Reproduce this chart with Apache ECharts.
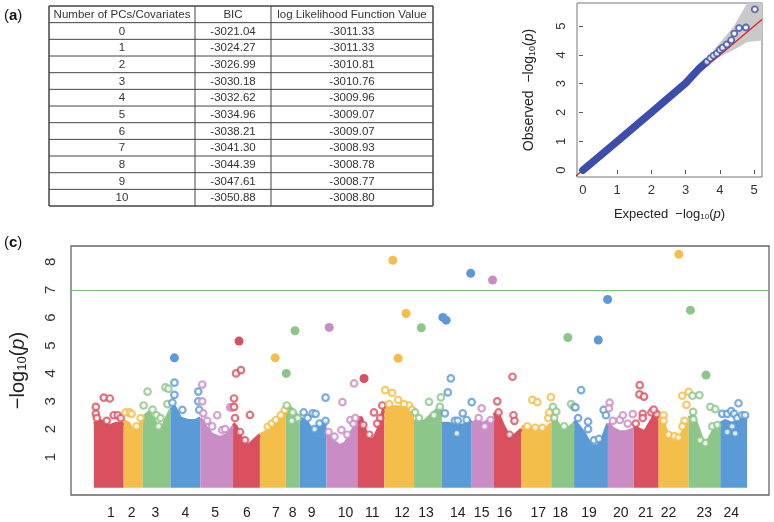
<!DOCTYPE html>
<html>
<head>
<meta charset="utf-8">
<script src="https://cdn.jsdelivr.net/npm/echarts@6/dist/echarts.min.js"></script>
<style>
	html, body { margin: 0; padding: 0; background: #fff; }
	#main { width: 774px; height: 522px; }
</style>
</head>
<body>
<div id="main"></div>
<script>
// (a) table
const tableHead = ['Number of PCs/Covariates', 'BIC', 'log Likelihood Function Value'];
const pcs = ['0', '1', '2', '3', '4', '5', '6', '7', '8', '9', '10'];
const bic = ['-3021.04', '-3024.27', '-3026.99', '-3030.18', '-3032.62', '-3034.96', '-3038.21', '-3041.30', '-3044.39', '-3047.61', '-3050.88'];
const logLik = ['-3011.33', '-3011.33', '-3010.81', '-3010.76', '-3009.96', '-3009.07', '-3009.07', '-3008.93', '-3008.78', '-3008.77', '-3008.80'];

// (b) QQ plot
const qqTicks = [0, 1, 2, 3, 4, 5];
const qqDense = [[0, 0], [1, 1], [2, 2], [3, 3.02], [3.42, 3.56], [3.6, 3.74]];
const qqTail = [[3.62, 3.76], [3.72, 3.88], [3.81, 3.97], [3.91, 4.05], [4.0, 4.17], [4.08, 4.25], [4.2, 4.36], [4.33, 4.51], [4.42, 4.74], [4.56, 4.93], [4.76, 4.95], [5.02, 5.58]];
const bandX = [3.48, 3.9, 4.4, 4.8, 5.23];
const bandLow = [3.5, 3.88, 4.17, 4.45, 4.5];
const bandHigh = [3.6, 4.28, 4.98, 5.8, 5.8];

// (c) manhattan
const chrNames = ['1', '2', '3', '4', '5', '6', '7', '8', '9', '10', '11', '12', '13', '14', '15', '16', '17', '18', '19', '20', '21', '22', '23', '24'];
const chrLabelPos = [40, 61, 85, 115, 145, 177, 206, 223, 242, 276, 303, 333, 357, 389, 413, 436, 470, 492, 521, 553, 578, 601, 637, 664];
const chrColors = ['#d9505e', '#f3be4a', '#8cc689', '#5a9ad6', '#c98cc4'];
const gwTicks = [1, 2, 3, 4, 5, 6, 7, 8];
const threshold = 7;

// top of the dense cloud in each chromosome
const envelope = [
	[[23, 2.2], [30, 2.3], [38, 2.1], [45, 2.2], [53, 2.2]],
	[[53, 2.3], [58, 2.2], [63, 1.9], [68, 2.1], [72, 2.3]],
	[[72, 2.4], [78, 2.6], [84, 2.3], [90, 1.9], [95, 2.3], [100, 2.7]],
	[[100, 2.7], [104, 2.8], [110, 2.4], [118, 2.3], [125, 2.3], [130, 2.4]],
	[[130, 2.4], [135, 2.1], [142, 1.8], [150, 1.7], [157, 1.8], [163, 2.1]],
	[[163, 2.2], [166, 2.1], [172, 1.6], [178, 1.4], [184, 1.6], [190, 1.8]],
	[[190, 1.8], [196, 1.9], [203, 2.1], [210, 2.3], [216, 2.6]],
	[[216, 2.7], [220, 2.8], [225, 2.6], [230, 2.4]],
	[[230, 2.4], [236, 2.3], [242, 2.0], [248, 2.1], [253, 2.2], [257, 2.3]],
	[[257, 1.8], [263, 1.6], [270, 1.4], [276, 1.5], [282, 1.9], [288, 2.2]],
	[[288, 2.4], [292, 2.4], [298, 1.7], [304, 1.6], [309, 2.0], [315, 2.8]],
	[[315, 2.7], [322, 2.8], [330, 2.8], [338, 2.75], [345, 2.6]],
	[[345, 2.3], [350, 2.2], [356, 2.3], [362, 2.5], [368, 2.7], [373, 2.8]],
	[[373, 2.2], [380, 2.2], [388, 2.1], [395, 2.15], [403, 2.3]],
	[[403, 2.2], [408, 2.3], [414, 2.2], [420, 2.3], [425, 2.4]],
	[[425, 2.5], [429, 2.6], [435, 2.1], [441, 1.7], [447, 1.8], [453, 2.0]],
	[[453, 2.1], [460, 2.0], [468, 2.0], [476, 1.95], [483, 2.2]],
	[[483, 2.4], [488, 2.3], [493, 2.0], [499, 2.0], [506, 2.2]],
	[[506, 2.3], [511, 2.1], [517, 1.8], [523, 1.4], [530, 1.4], [535, 1.7], [540, 2.2]],
	[[540, 2.2], [546, 2.0], [552, 1.9], [558, 1.9], [566, 2.0]],
	[[566, 2.1], [571, 2.0], [577, 1.9], [582, 2.2], [587, 2.5], [591, 2.6]],
	[[591, 2.4], [596, 2.2], [601, 1.7], [607, 1.5], [612, 1.7], [617, 2.0], [621, 2.2]],
	[[621, 2.4], [626, 2.5], [631, 2.0], [636, 1.5], [641, 1.6], [647, 2.0], [653, 2.2]],
	[[653, 2.2], [658, 2.3], [665, 2.2], [671, 2.3], [676, 2.4], [680, 2.4]]
];

// hollow points sticking out of the cloud
const fringe = [
	[[25, 2.8], [25, 2.55], [26, 2.4], [33, 3.13], [39, 3.1], [43, 2.5], [47, 2.5], [50, 2.4], [36, 2.3]],
	[[55, 2.6], [59, 2.6], [61, 2.55], [66, 2.1], [70, 2.4]],
	[[73, 2.85], [77, 3.35], [82, 2.7], [86, 2.5], [90, 2.4], [88, 2.1], [97, 2.9], [95, 3.5], [98, 3.45]],
	[[104, 3.67], [104, 3.23], [102, 2.95], [112, 2.69], [128, 3.35], [128, 3.0], [129, 2.69]],
	[[132, 3.6], [132, 3.0], [133, 2.57], [137, 2.3], [147, 2.5], [142, 2.1], [152, 1.97], [155, 2.0], [160, 2.78], [162, 2.78]],
	[[164, 3.1], [164, 2.8], [165, 2.4], [180, 2.51], [170, 1.9], [175, 1.6], [166, 4.0], [171, 4.12]],
	[[198, 2.09], [202, 2.2], [206, 2.33], [211, 2.5], [215, 2.69]],
	[[217, 2.85], [223, 2.6], [228, 2.4], [222, 2.3]],
	[[234, 2.6], [238, 2.4], [243, 2.57], [246, 2.55], [250, 2.2], [256, 2.3], [256, 3.13], [245, 2.0]],
	[[259, 1.9], [265, 1.73], [272, 1.97], [273, 2.97], [278, 1.8], [281, 2.33], [284, 2.2], [286, 2.4], [284.7, 3.64]],
	[[294, 2.15], [304.7, 2.6], [300, 1.8], [308, 2.2], [311, 2.4], [313, 2.85]],
	[[316, 3.4], [323, 3.3], [329, 3.05], [320, 2.9], [340, 2.85], [335, 2.9], [343, 2.7]],
	[[346, 2.6], [350, 2.4], [360, 2.98], [365, 2.5], [371, 2.8], [372, 3.14]],
	[[379, 3.32], [382, 3.82], [376, 2.57], [386, 2.3], [389, 2.3], [394, 2.57], [398, 2.33], [403, 2.97], [388, 1.85]],
	[[413, 2.75], [416, 2.1], [410, 2.4], [422, 2.33]],
	[[428.7, 3.0], [430, 2.6], [445, 2.5], [446, 2.3], [441, 1.8], [444, 3.88]],
	[[464, 3.05], [469, 2.97], [459, 2.1], [467, 2.05], [474, 2.05], [480, 2.4], [482.7, 3.15], [481, 2.6]],
	[[484.7, 2.8], [488, 2.63], [486, 2.4], [503, 2.9], [505.7, 2.8], [496, 2.1]],
	[[507.3, 2.78], [513, 3.4], [510, 2.4], [520, 2.27], [520, 2.0], [526, 1.6], [531, 1.65], [535.7, 2.69], [538, 2.5]],
	[[541.7, 2.95], [541, 2.75], [545, 2.3], [552, 2.33], [555, 2.5], [560, 2.2], [565, 2.54]],
	[[572, 3.58], [571.7, 3.25], [576.3, 3.17], [575, 2.55], [575, 2.4], [583.7, 2.6], [589, 2.54], [586, 2.7], [568, 2.2]],
	[[596, 2.5], [596, 2.3], [601, 1.8], [607, 1.75], [611, 1.7], [614.7, 3.2], [621.3, 3.34], [619, 2.87], [617, 2.3], [615, 2.1]],
	[[625, 3.2], [632, 3.22], [625.7, 2.62], [626, 2.35], [643, 2.8], [648, 2.72], [645, 2.1], [650, 2.15], [633, 1.6], [638, 1.5]],
	[[671.3, 2.93], [655, 2.55], [660, 2.55], [664, 2.65], [667, 2.55], [670, 2.4], [675, 2.5], [678, 2.5], [665, 2.1], [668, 1.85], [660, 1.9]]
];

// strongest hits: [pos, -log10 p, chromosome index]
const hits = [[104, 4.56, 3], [169, 5.16, 5], [205.3, 4.56, 6], [225.3, 5.53, 7], [216.5, 4.0, 7], [259.7, 5.65, 9], [294.7, 3.82, 10],
	[323.7, 8.06, 11], [337, 6.15, 11], [329, 4.54, 11], [352.3, 5.64, 12], [374, 6.01, 13], [377.3, 5.91, 13], [402, 7.59, 13],
	[424, 7.35, 14], [499.7, 5.29, 17], [530.3, 5.2, 18], [539.7, 6.65, 18], [611.3, 8.27, 21], [623, 6.27, 22], [638.7, 3.94, 22]];

const qqBlue = '#3d4dab';
const font = 'Liberation Sans';

let chartDom = document.getElementById('main');
let myChart = echarts.init(chartDom);

// table drawn as graphic elements
let gfx = [];
let tx = [49, 195, 271, 433];
let ty0 = 6, rowH = 16.67;
let nRows = pcs.length + 1;
for (let r = 0; r <= nRows; r++) {
	gfx.push({ type: 'line', shape: { x1: tx[0], y1: ty0 + r * rowH, x2: tx[3], y2: ty0 + r * rowH }, style: { stroke: '#444', lineWidth: (r == 0 || r == nRows) ? 1.5 : 1 } });
}
for (let c = 0; c < tx.length; c++) {
	gfx.push({ type: 'line', shape: { x1: tx[c], y1: ty0, x2: tx[c], y2: ty0 + nRows * rowH }, style: { stroke: '#444', lineWidth: (c == 0 || c == 3) ? 1.5 : 1 } });
}
let cols = [tableHead];
for (let i = 0; i < pcs.length; i++) cols.push([pcs[i], bic[i], logLik[i]]);
for (let r = 0; r < cols.length; r++) {
	for (let c = 0; c < 3; c++) {
		gfx.push({
			type: 'text', x: (tx[c] + tx[c + 1]) / 2, y: ty0 + (r + 0.5) * rowH + 0.5,
			style: { text: cols[r][c], fill: '#333', font: '11.5px "' + font + '"', align: 'center', verticalAlign: 'middle' }
		});
	}
}
// panel letters
let panelTag = (ch, x, y) => ({
	type: 'text', x: x, y: y,
	style: { text: '({b|' + ch + '})', fill: '#111', font: '15px "' + font + '"', verticalAlign: 'middle', rich: { b: { fontWeight: 'bold', fontSize: 15, fontFamily: font } } }
});
gfx.push(panelTag('a', 4, 16));
gfx.push(panelTag('b', 741, 17));
gfx.push(panelTag('c', 4, 243));

let logRich = (size) => ({
	t: { fontSize: size, fontFamily: font, color: '#222' },
	s: { fontSize: Math.round(size * 0.65), fontFamily: font, color: '#222', padding: [Math.round(size * 0.45), 0, 0, 0] },
	i: { fontSize: size, fontFamily: font, fontStyle: 'italic', color: '#222' }
});

let series = [];

// QQ band, diagonal, points
series.push({
	type: 'custom', xAxisIndex: 0, yAxisIndex: 0, silent: true, z: 1,
	data: [0],
	renderItem: function(params, api) {
		let pts = [];
		for (let i = 0; i < bandX.length; i++) pts.push(api.coord([bandX[i], bandHigh[i]]));
		for (let i = bandX.length - 1; i >= 0; i--) pts.push(api.coord([bandX[i], bandLow[i]]));
		return { type: 'polygon', shape: { points: pts }, style: { fill: '#c9c9c9' } };
	}
});
series.push({
	type: 'line', xAxisIndex: 0, yAxisIndex: 0, symbol: 'none', silent: true, z: 2,
	data: [[-0.24, -0.24], [5.23, 5.23]],
	lineStyle: { color: '#e02020', width: 1.3 }
});
series.push({
	type: 'line', xAxisIndex: 0, yAxisIndex: 0, symbol: 'none', silent: true, z: 3,
	data: qqDense,
	lineStyle: { color: qqBlue, width: 7.5, cap: 'round', join: 'round' }
});
series.push({
	type: 'scatter', xAxisIndex: 0, yAxisIndex: 0, silent: true, z: 4,
	data: qqTail, symbol: 'circle', symbolSize: 6,
	itemStyle: { color: '#fff', borderColor: qqBlue, borderWidth: 1.8 }
});

// manhattan: dense cloud, fringe points, hits
for (let i = 0; i < chrNames.length; i++) {
	let col = chrColors[i % 5];
	series.push({
		type: 'line', xAxisIndex: 1, yAxisIndex: 1, symbol: 'none', silent: true, z: 2,
		data: envelope[i],
		lineStyle: { color: col, width: 3.5, join: 'round' },
		areaStyle: { color: col, opacity: 1, origin: -0.1 }
	});
	series.push({
		type: 'scatter', xAxisIndex: 1, yAxisIndex: 1, silent: true, z: 3,
		data: fringe[i], symbol: 'circle', symbolSize: 6.5,
		itemStyle: { color: '#fff', borderColor: col, borderWidth: 2.2 }
	});
}
series.push({
	type: 'scatter', xAxisIndex: 1, yAxisIndex: 1, silent: true, z: 4,
	data: hits, symbolSize: 9,
	itemStyle: { color: (p) => chrColors[p.value[2] % 5], opacity: 1 },
	markLine: {
		silent: true, symbol: ['none', 'none'], label: { show: false },
		lineStyle: { color: '#7dbb7b', width: 1, type: 'solid' },
		data: [{ yAxis: threshold }]
	}
});

let option = {
	animation: false,
	backgroundColor: '#fff',
	textStyle: { fontFamily: font },
	grid: [
		{ left: 577, top: 3, width: 185, height: 174, show: true, borderColor: '#777', borderWidth: 1, backgroundColor: 'transparent' },
		{ left: 67, top: 246, width: 702, height: 249, show: true, borderColor: '#666', borderWidth: 1.3, backgroundColor: 'transparent' }
	],
	xAxis: [{
		gridIndex: 0, type: 'value', min: -0.175, max: 5.23,
		axisLine: { show: false }, splitLine: { show: false },
		axisTick: { show: true, customValues: qqTicks, length: 4, lineStyle: { color: '#555' } },
		axisLabel: { customValues: qqTicks, fontSize: 13, color: '#333', margin: 7 },
		name: '{t|Expected  −log}{s|10}{t|(}{i|p}{t|)}', nameLocation: 'middle', nameGap: 30,
		nameTextStyle: { rich: logRich(13) }
	}, {
		gridIndex: 1, type: 'value', min: 0, max: 702,
		axisLine: { show: false }, splitLine: { show: false }, axisTick: { show: false },
		axisLabel: {
			customValues: chrLabelPos, fontSize: 14, color: '#222', margin: 11,
			formatter: function(v) {
				for (let k = 0; k < chrLabelPos.length; k++) {
					if (Math.abs(chrLabelPos[k] - v) < 0.01) return chrNames[k];
				}
				return '';
			}
		}
	}],
	yAxis: [{
		gridIndex: 0, type: 'value', min: -0.24, max: 5.8,
		axisLine: { show: false }, splitLine: { show: false },
		axisTick: { show: true, customValues: qqTicks, length: 4, lineStyle: { color: '#555' } },
		axisLabel: { customValues: qqTicks, fontSize: 13, color: '#333', rotate: 90, margin: 9 },
		name: '{t|Observed  −log}{s|10}{t|(}{i|p}{t|)}', nameLocation: 'middle', nameRotate: 90, nameGap: 40,
		nameTextStyle: { rich: logRich(14) }
	}, {
		gridIndex: 1, type: 'value', min: -0.36, max: 8.57,
		axisLine: { show: false }, splitLine: { show: false }, axisTick: { show: false },
		axisLabel: { customValues: gwTicks, fontSize: 15, color: '#333', rotate: 90, margin: 13 },
		name: '{t|−log}{s|10}{t|(}{i|p}{t|)}', nameLocation: 'middle', nameRotate: 90, nameGap: 42,
		nameTextStyle: { rich: logRich(20) }
	}],
	graphic: gfx,
	series: series
};
option && myChart.setOption(option);
</script>
</body>
</html>
